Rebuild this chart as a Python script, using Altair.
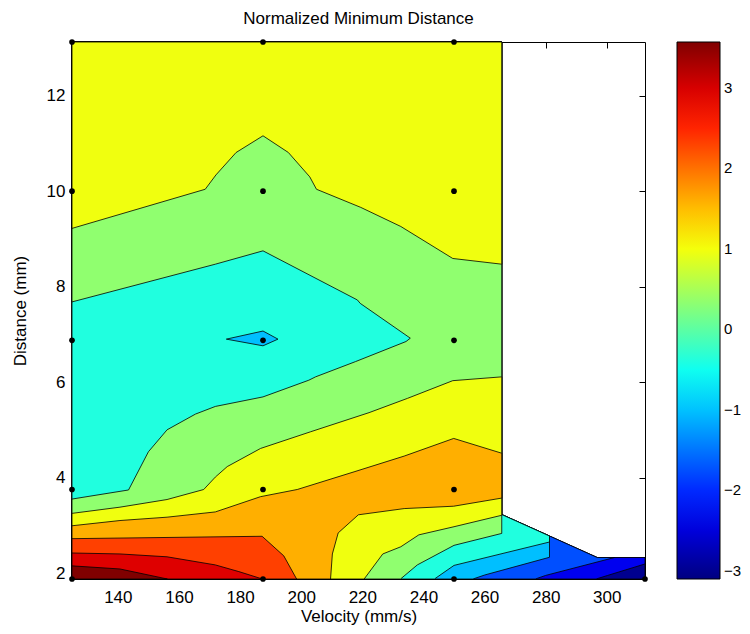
import altair as alt
import pandas as pd

# ---------------- text ----------------
chart_title = "Normalized Minimum Distance"
x_title = "Velocity (mm/s)"
y_title = "Distance (mm)"

# ---------------- axes ----------------
x_ticks = [140, 160, 180, 200, 220, 240, 260, 280, 300]
y_ticks = [2, 4, 6, 8, 10, 12]
cbar_ticks = [-3, -2, -1, 0, 1, 2, 3]
x_domain = [125, 312.5]
y_domain = [1.875, 13.125]
c_domain = [-3.1, 3.57]

# value of each filled contour band (lowest to highest)
band_values = [-3.0, -2.37, -1.75, -1.02, -0.39, 0.34, 0.97, 1.59, 2.32, 2.95, 3.57]

# measured sample points (black dots)
dot_x = [125, 125, 125, 125, 125,
         187.5, 187.5, 187.5, 187.5, 187.5,
         250, 250, 250, 250, 250,
         312.5]
dot_y = [1.875, 3.75, 6.875, 10.0, 13.125,
         1.875, 3.75, 6.875, 10.0, 13.125,
         1.875, 3.75, 6.875, 10.0, 13.125,
         1.875]

# ---------------- contour regions (value >= band level) ----------------
s0_x = [125, 125, 265.625, 265.625, 281.25, 296.875, 312.5, 312.5, 125]
s0_y = [1.875, 13.125, 13.125, 3.225, 2.775, 2.325, 2.325, 1.875, 1.875]

s1_x = [125, 125, 265.625, 265.625, 281.25, 296.875, 312.5, 312.5, 300.3, 296.5, 125]
s1_y = [1.875, 13.125, 13.125, 3.225, 2.775, 2.325, 2.325, 2.19, 1.95, 1.875, 1.875]

s2_x = [125, 125, 265.625, 265.625, 281.25, 296.875, 302.5, 280.0, 276.6, 125]
s2_y = [1.875, 13.125, 13.125, 3.225, 2.775, 2.325, 2.325, 1.95, 1.875, 1.875]

s3_x = [125, 125, 265.625, 265.625, 281.25, 281.25, 260.1, 256.2, 125]
s3_y = [1.875, 13.125, 13.125, 3.225, 2.775, 2.33, 1.96, 1.875, 1.875]

s4_x = [125, 125, 265.625, 265.625, 281.25, 281.25, 250.0, 243.6, 125]
s4_y = [1.875, 13.125, 13.125, 3.225, 2.775, 2.65, 2.16, 1.875, 1.875]

dm_x = [175.5, 187.5, 192.4, 187.5, 175.5]
dm_y = [6.90, 7.07, 6.90, 6.76, 6.90]

s5_x = [125, 125, 265.625, 265.625, 250.0, 238.0, 232.5, 125, 125, 143.5, 150.0, 156.1,
        165.4, 171.9, 187.5, 202.5, 204.7, 217.8, 234.3, 235.7, 219.3, 218.4, 187.5, 171.9, 125]
s5_y = [7.68, 13.125, 13.125, 2.83, 2.58, 2.17, 1.875, 1.875, 3.55, 3.74, 4.54, 5.00,
        5.33, 5.49, 5.69, 6.04, 6.11, 6.43, 6.85, 6.92, 7.65, 7.72, 8.75, 8.47, 7.68]

s6a_x = [125, 125, 265.625, 265.625, 249.6, 232.6, 219.5, 205.0, 202.8, 195.8, 187.5, 178.7, 172.1, 168.6, 125]
s6a_y = [9.22, 13.125, 13.125, 8.47, 8.59, 9.26, 9.66, 10.04, 10.30, 10.81, 11.16, 10.81, 10.34, 10.04, 9.22]

s6b_x = [125, 140.7, 156.1, 168.1, 171.9, 175.8, 186.7, 203.1, 222.2, 234.8, 249.6, 265.625,
         265.625, 250.0, 238.5, 232.6, 226.7, 220.6, 125, 125]
s6b_y = [3.25, 3.38, 3.54, 3.75, 4.01, 4.23, 4.61, 4.96, 5.36, 5.66, 6.03, 6.11,
         3.21, 2.97, 2.80, 2.55, 2.40, 1.875, 1.875, 3.25]

s7_x = [125, 140.7, 156.1, 171.9, 186.7, 198.7, 217.3, 233.7, 249.9, 265.625,
        265.625, 249.9, 233.7, 218.7, 212.1, 210.2, 209.6, 125, 125]
s7_y = [2.99, 3.10, 3.17, 3.28, 3.60, 3.75, 4.12, 4.45, 4.82, 4.51,
        3.57, 3.40, 3.35, 3.22, 2.84, 2.40, 1.875, 1.875, 2.99]

s8_x = [125, 187.2, 194.3, 198.5, 125, 125]
s8_y = [2.72, 2.77, 2.36, 1.875, 1.875, 2.72]

s9_x = [125, 140.7, 156.1, 171.9, 179.6, 187.3, 125, 125]
s9_y = [2.42, 2.40, 2.34, 2.17, 2.03, 1.875, 1.875, 2.42]

s10_x = [125, 140.7, 156.2, 125, 125]
s10_y = [2.15, 2.085, 1.875, 1.875, 2.15]

# drawing order: (pieces, band index)
layers_def = [
    ([(s0_x, s0_y)], 0),
    ([(s1_x, s1_y)], 1),
    ([(s2_x, s2_y)], 2),
    ([(s3_x, s3_y)], 3),
    ([(s4_x, s4_y)], 4),
    ([(dm_x, dm_y)], 3),
    ([(s5_x, s5_y)], 5),
    ([(s6a_x, s6a_y), (s6b_x, s6b_y)], 6),
    ([(s7_x, s7_y)], 7),
    ([(s8_x, s8_y)], 8),
    ([(s9_x, s9_y)], 9),
    ([(s10_x, s10_y)], 10),
]

# ---------------- styling ----------------
FONT = "Liberation Sans"
W, H = 573, 537
jet_anchor_colors = ["#000080", "#0000ff", "#00ffff", "#ffff00", "#ff0000", "#800000"]
jet_anchor_pos = [0, 0.125, 0.375, 0.625, 0.875, 1.0]
c_stops = [c_domain[0] + p * (c_domain[1] - c_domain[0]) for p in jet_anchor_pos]

xs = alt.Scale(domain=x_domain, nice=False, zero=False)
ys = alt.Scale(domain=y_domain, nice=False, zero=False)
cs = alt.Scale(domain=c_stops, range=jet_anchor_colors, interpolate="rgb", clamp=True)

legend = alt.Legend(
    title=None, orient="none", legendX=605, legendY=0, direction="vertical",
    gradientLength=H, gradientThickness=43, values=cbar_ticks, format="d",
    gradientStrokeColor="black", gradientStrokeWidth=1,
    labelFont=FONT, labelFontSize=15, labelColor="black", labelOffset=4,
    labelOverlap=False, padding=0,
)

tick_axis = dict(labels=False, ticks=True, tickSize=6, tickColor="black", tickWidth=1,
                 domain=False, grid=False, title=None)

axes_x = [
    alt.Axis(title=x_title, values=x_ticks, ticks=False, domain=False, grid=False,
             labelPadding=10, titlePadding=3, orient="bottom"),
    alt.Axis(values=x_ticks, orient="top", offset=-H, **tick_axis),
    alt.Axis(values=x_ticks, orient="bottom", offset=-H, **tick_axis),
]
axes_y = [
    alt.Axis(title=y_title, values=y_ticks, ticks=False, domain=False, grid=False,
             labelPadding=7, titlePadding=17, orient="left"),
    alt.Axis(values=y_ticks, orient="right", offset=-W, **tick_axis),
    alt.Axis(values=y_ticks, orient="left", offset=-W, **tick_axis),
]

charts = []
for li, (pieces, band) in enumerate(layers_def):
    rows = []
    for pi, (px, py) in enumerate(pieces):
        for i, (a, b) in enumerate(zip(px, py)):
            rows.append({"piece": f"{li}-{pi}", "idx": i, "x": a, "y": b, "v": band_values[band]})
    df = pd.DataFrame(rows)
    xa = axes_x[li] if li < 3 else None
    ya = axes_y[li] if li < 3 else None
    c = alt.Chart(df).mark_line(
        stroke="black", strokeWidth=0.8, fillOpacity=1, strokeJoin="miter", clip=False
    ).encode(
        x=alt.X("x:Q", scale=xs, axis=xa),
        y=alt.Y("y:Q", scale=ys, axis=ya),
        fill=alt.Fill("v:Q", scale=cs, legend=legend),
        detail="piece:N",
        order="idx:Q",
    )
    charts.append(c)

dots = alt.Chart(pd.DataFrame({"x": dot_x, "y": dot_y})).mark_circle(
    size=32, color="black", opacity=1
).encode(
    x=alt.X("x:Q", scale=xs, axis=None),
    y=alt.Y("y:Q", scale=ys, axis=None),
)
charts.append(dots)

chart = alt.layer(*charts).resolve_axis(
    x="independent", y="independent"
).properties(
    width=W, height=H,
    title=alt.Title(chart_title, font=FONT, fontSize=17, fontWeight="normal", color="black",
                    anchor="middle", offset=11),
    autosize=alt.AutoSizeParams(type="none"),
    padding={"left": 64, "top": 34, "right": 97, "bottom": 47},
).configure_view(
    stroke="black", strokeWidth=1
).configure_axis(
    labelFont=FONT, labelFontSize=17, labelColor="black",
    titleFont=FONT, titleFontSize=17, titleFontWeight="normal", titleColor="black",
)

chart.save("out.html", embed_options={"renderer": "svg", "actions": False})
